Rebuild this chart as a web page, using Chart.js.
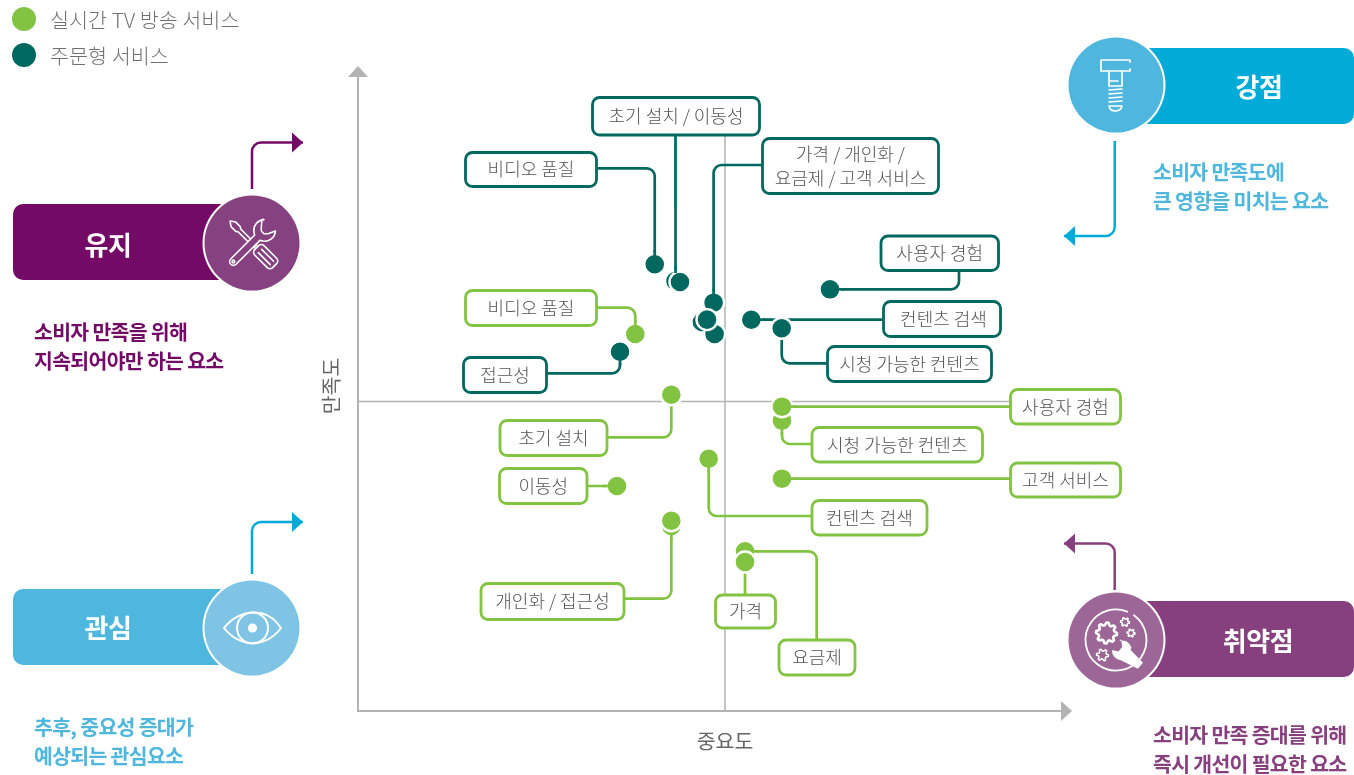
<!DOCTYPE html>
<html lang="ko">
<head>
<meta charset="utf-8">
<title>중요도-만족도 분석</title>
<script src="https://cdn.jsdelivr.net/npm/chart.js@4/dist/chart.umd.min.js"></script>
<style>
  html, body { margin: 0; padding: 0; background: #fff; }
  canvas { display: block; }
</style>
</head>
<body>
<canvas id="myChart" width="1354" height="775"></canvas>
<script>
// importance / satisfaction scores, 0-100 on both axes
const vodNames = ['고객 서비스', '이동성', '초기 설치', '비디오 품질', '요금제', '가격', '개인화', '사용자 경험', '컨텐츠 검색', '시청 가능한 컨텐츠', '접근성']
const vodImportance = [49.14, 45.36, 46.0, 42.39, 50.94, 50.8, 49.86, 67.43, 56.19, 60.53, 37.43]
const vodSatisfaction = [60.78, 67.19, 67.03, 69.8, 58.9, 63.8, 61.16, 65.89, 61.14, 59.8, 56.14]

const liveNames = ['비디오 품질', '초기 설치', '이동성', '접근성', '개인화', '컨텐츠 검색', '시청 가능한 컨텐츠', '사용자 경험', '고객 서비스', '요금제', '가격']
const liveImportance = [39.61, 44.76, 37.0, 44.76, 44.76, 50.1, 60.57, 60.57, 60.57, 55.29, 55.29]
const liveSatisfaction = [58.9, 49.42, 35.16, 28.9, 29.73, 39.42, 45.36, 47.55, 36.3, 24.95, 23.28]

const seriesNames = ['주문형 서비스', '실시간 TV 방송 서비스']
const crossImportance = 52.43
const crossSatisfaction = 48.36
const axisTitles = ['중요도', '만족도']

const DARK = '#00685f'
const GREEN = '#82c341'
const GRAY = '#b3b3b3'
const TEXT = '#666666'
const BOX_TEXT = '#555555'
const FONT = '"Noto Sans CJK KR", "Noto Sans", sans-serif'

// label boxes: x, y, w, h are the stroke centre line.
// start 'h' leaves the box horizontally at `at`, start 'v' vertically at `at`.
// gap: the line stops short of the point's white ring
const callouts = [
  { s: 0, name: '비디오 품질', lines: ['비디오 품질'], box: [465.5, 152.5, 131, 34], start: 'h', edge: 596.5, at: 168.3 },
  { s: 0, name: '이동성', lines: ['초기 설치 / 이동성'], box: [592.5, 97.5, 167, 37.5], start: 'v', edge: 135, at: 675.5 },
  { s: 0, name: '가격', lines: ['가격 / 개인화 /', '요금제 / 고객 서비스'], box: [762.5, 138.5, 176, 55], start: 'h', edge: 762.5, at: 165 },
  { s: 0, name: '사용자 경험', lines: ['사용자 경험'], box: [881, 236, 117.5, 34.5], start: 'v', edge: 270.5, at: 959 },
  { s: 0, name: '컨텐츠 검색', lines: ['컨텐츠 검색'], box: [883.5, 301.5, 117, 35], start: 'h', edge: 883.5, at: 319.6, shift: 1.5 },
  { s: 0, name: '시청 가능한 컨텐츠', lines: ['시청 가능한 컨텐츠'], box: [827.5, 346.5, 164, 35], start: 'h', edge: 827.5, at: 363.3, gap: true },
  { s: 0, name: '접근성', lines: ['접근성'], box: [463.5, 357.5, 83, 35], start: 'h', edge: 546.5, at: 373.3 },
  { s: 1, name: '비디오 품질', lines: ['비디오 품질'], box: [465.5, 290.5, 131, 35], start: 'h', edge: 596.5, at: 307.7 },
  { s: 1, name: '초기 설치', lines: ['초기 설치'], box: [500, 420.5, 107, 35], start: 'h', edge: 607, at: 437.3, gap: true },
  { s: 1, name: '이동성', lines: ['이동성'], box: [499.5, 468.5, 87.5, 35], start: 'h', edge: 587, at: 486 },
  { s: 1, name: '접근성', lines: ['개인화 / 접근성'], box: [481, 583.5, 143, 36], start: 'h', edge: 624, at: 598.7 },
  { s: 1, name: '컨텐츠 검색', lines: ['컨텐츠 검색'], box: [812, 500.5, 115, 34.5], start: 'h', edge: 812, at: 516 },
  { s: 1, name: '시청 가능한 컨텐츠', lines: ['시청 가능한 컨텐츠'], box: [812, 427.5, 170.5, 34.5], start: 'h', edge: 812, at: 444 },
  { s: 1, name: '사용자 경험', lines: ['사용자 경험'], box: [1010.5, 389.5, 110, 34.5], start: 'h', edge: 1010.5, at: 406.6 },
  { s: 1, name: '고객 서비스', lines: ['고객 서비스'], box: [1010.5, 463, 110, 34], start: 'h', edge: 1010.5, at: 478.7 },
  { s: 1, name: '요금제', lines: ['요금제'], box: [779, 640, 76, 35], start: 'v', edge: 640, at: 816.7 },
  { s: 1, name: '가격', lines: ['가격'], box: [715.5, 595, 60, 33], start: 'v', edge: 595, at: 745, gap: true }
]

// quadrant panels around the plot
const panels = [
  { title: '유지', rect: [13, 204, 230, 76], titleX: 108, titleY: 245.5, cx: 252, cy: 243, bar: '#730b66', disc: '#864280', icon: drawTools,
    note: ['소비자 만족을 위해', '지속되어야만 하는 요소'], noteX: 34, noteY: 332, noteColor: '#730b66' },
  { title: '관심', rect: [13, 589, 230, 76], titleX: 108, titleY: 628, cx: 252, cy: 628, bar: '#4fb7dd', disc: '#7fc4e4', icon: drawEye,
    note: ['추후, 중요성 증대가', '예상되는 관심요소'], noteX: 34, noteY: 727, noteColor: '#4fb7dd' },
  { title: '강점', rect: [1124, 48, 230, 76], titleX: 1259, titleY: 87, cx: 1116, cy: 85, bar: '#00acd7', disc: '#4fb7dd', icon: drawBolt,
    note: ['소비자 만족도에', '큰 영향을 미치는 요소'], noteX: 1153, noteY: 172, noteColor: '#4fb7dd' },
  { title: '취약점', rect: [1124, 601, 230, 76], titleX: 1258, titleY: 641, cx: 1116, cy: 640, bar: '#87407e', disc: '#9c6797', icon: drawGears,
    note: ['소비자 만족 증대를 위해', '즉시 개선이 필요한 요소'], noteX: 1153, noteY: 735, noteColor: '#87407e' }
]

const panelArrows = [
  { color: '#730b66', from: [252, 189], corner: [252, 142.5], to: [303, 142.5] },
  { color: '#00acd7', from: [252, 574], corner: [252, 522], to: [303, 522] },
  { color: '#00acd7', from: [1114.7, 141], corner: [1114.7, 236], to: [1064, 236] },
  { color: '#87407e', from: [1114.7, 590], corner: [1114.7, 543.5], to: [1064, 543.5] }
]

function triangle(ctx, tipX, tipY, dx, dy, color) {
  // dx,dy points from the tip back to the base
  ctx.fillStyle = color
  ctx.beginPath()
  ctx.moveTo(tipX, tipY)
  ctx.lineTo(tipX + dx + dy * 10 / 11, tipY + dy + dx * 10 / 11)
  ctx.lineTo(tipX + dx - dy * 10 / 11, tipY + dy - dx * 10 / 11)
  ctx.closePath()
  ctx.fill()
}

function label(ctx, text, x, y, font, color, align, spacing) {
  ctx.font = font
  ctx.fillStyle = color
  ctx.textAlign = align || 'center'
  ctx.textBaseline = 'middle'
  ctx.letterSpacing = spacing || '0px'
  ctx.fillText(text, x, y)
  ctx.letterSpacing = '0px'
}

function drawTools(ctx) {
  ctx.lineWidth = 1.7
  ctx.scale(0.94, 0.94)
  // screwdriver
  ctx.save()
  ctx.rotate(Math.PI / 4)
  ctx.beginPath()
  ctx.moveTo(-33, 0)
  ctx.lineTo(-28, -3.5)
  ctx.lineTo(-21, -3.5)
  ctx.lineTo(-19, -2)
  ctx.lineTo(5, -2)
  ctx.lineTo(5, 2)
  ctx.lineTo(-19, 2)
  ctx.lineTo(-21, 3.5)
  ctx.lineTo(-28, 3.5)
  ctx.closePath()
  ctx.stroke()
  ctx.beginPath()
  ctx.roundRect(7, -7, 27, 14, 4)
  ctx.stroke()
  for (const off of [-2.5, 2.5]) {
    ctx.beginPath()
    ctx.moveTo(12, off)
    ctx.lineTo(30, off)
    ctx.stroke()
  }
  ctx.restore()
  // wrench
  ctx.save()
  ctx.rotate(-Math.PI / 4)
  ctx.beginPath()
  ctx.moveTo(8, -4)
  ctx.lineTo(-28, -4)
  ctx.arc(-28, 0, 4, -Math.PI / 2, Math.PI / 2, true)
  ctx.lineTo(8, 4)
  ctx.arc(19, 0, 11.5, Math.PI * 0.8, Math.PI * 0.27, true)
  ctx.lineTo(19, 5)
  ctx.lineTo(16, 2)
  ctx.lineTo(16, -2)
  ctx.lineTo(19, -5)
  ctx.lineTo(25, -10)
  ctx.arc(19, 0, 11.5, -Math.PI * 0.27, -Math.PI * 0.8, true)
  ctx.closePath()
  ctx.fillStyle = '#864280'
  ctx.fill()
  ctx.stroke()
  ctx.beginPath()
  ctx.arc(-28, 0, 1.4, 0, Math.PI * 2)
  ctx.stroke()
  ctx.restore()
}

function drawEye(ctx) {
  ctx.lineWidth = 2
  ctx.beginPath()
  ctx.moveTo(26, -4)
  ctx.bezierCurveTo(14, -20, -12, -20, -28, 0)
  ctx.bezierCurveTo(-12, 20, 14, 20, 29, 0)
  ctx.lineTo(26, -4)
  ctx.stroke()
  ctx.beginPath()
  ctx.arc(0.5, 0, 15.5, 0, Math.PI * 2)
  ctx.stroke()
  ctx.fillStyle = '#fff'
  ctx.beginPath()
  ctx.arc(0.5, 0, 4.6, 0, Math.PI * 2)
  ctx.fill()
}

function drawBolt(ctx) {
  ctx.lineWidth = 1.7
  ctx.beginPath()
  ctx.moveTo(14, -25)
  ctx.lineTo(-15, -25)
  ctx.lineTo(-15, -14)
  ctx.lineTo(14, -14)
  ctx.moveTo(14, -25)
  ctx.lineTo(14, -23)
  ctx.moveTo(14, -16)
  ctx.lineTo(14, -14)
  ctx.moveTo(-7, -14)
  ctx.lineTo(-7, 0)
  ctx.moveTo(6, -14)
  ctx.lineTo(6, 0)
  ctx.moveTo(-7, -4)
  ctx.lineTo(2, -4)
  ctx.moveTo(-7, 1)
  ctx.lineTo(6, 1)
  ctx.stroke()
  ctx.lineWidth = 1.5
  for (const y of [5, 9, 13, 17]) {
    ctx.beginPath()
    ctx.moveTo(-7, y)
    ctx.lineTo(6, y - 1)
    ctx.stroke()
  }
  ctx.beginPath()
  ctx.moveTo(-7, 21)
  ctx.lineTo(6, 21)
  ctx.quadraticCurveTo(5, 26, -1, 26)
  ctx.quadraticCurveTo(-6, 26, -7, 21)
  ctx.stroke()
}

function gear(ctx, x, y, outer, inner, teeth) {
  ctx.beginPath()
  for (let i = 0; i < teeth * 4; i++) {
    const a = i / (teeth * 4) * Math.PI * 2
    const r = (i % 4 < 2) ? outer : inner
    const px = x + Math.cos(a) * r
    const py = y + Math.sin(a) * r
    if (i === 0) ctx.moveTo(px, py)
    else ctx.lineTo(px, py)
  }
  ctx.closePath()
  ctx.stroke()
}

function drawGears(ctx) {
  ctx.lineWidth = 1.8
  ctx.beginPath()
  ctx.arc(0, 0, 30.5, -Math.PI * 0.3, Math.PI * 1.62)
  ctx.stroke()
  ctx.lineWidth = 2.6
  gear(ctx, -9.5, -7, 10.5, 8, 8)
  ctx.lineWidth = 1.5
  gear(ctx, 9, -18, 4.5, 3, 6)
  gear(ctx, 15, -7, 4, 2.6, 6)
  gear(ctx, -13.5, 15, 6, 4, 6)
  // spanner crossing the ring
  ctx.save()
  ctx.translate(9, 13)
  ctx.rotate(Math.PI * 0.22)
  ctx.fillStyle = '#fff'
  ctx.beginPath()
  ctx.moveTo(-12, -8)
  ctx.lineTo(-6, -3)
  ctx.lineTo(-6, 3)
  ctx.lineTo(-12, 6)
  ctx.arc(-4, 0, 10, Math.PI * 0.8, Math.PI * 0.3, true)
  ctx.lineTo(20, 4)
  ctx.lineTo(20, -4)
  ctx.lineTo(2, -6)
  ctx.arc(-4, 0, 10, -Math.PI * 0.3, -Math.PI * 0.8, true)
  ctx.closePath()
  ctx.fill()
  ctx.restore()
}

function calloutPoint(chart, c) {
  const ds = chart.data.datasets[c.s]
  const pt = ds.data[ds.names.indexOf(c.name)]
  return { px: chart.scales.x.getPixelForValue(pt.x), py: chart.scales.y.getPixelForValue(pt.y), color: ds.backgroundColor }
}

const decorations = {
  id: 'decorations',
  beforeDatasetsDraw(chart) {
    const ctx = chart.ctx
    const x = chart.scales.x
    const y = chart.scales.y

    // quadrant cross lines
    ctx.save()
    ctx.strokeStyle = GRAY
    ctx.lineWidth = 1.5
    ctx.beginPath()
    ctx.moveTo(x.getPixelForValue(crossImportance), y.bottom)
    ctx.lineTo(x.getPixelForValue(crossImportance), 120)
    ctx.moveTo(x.left, y.getPixelForValue(crossSatisfaction))
    ctx.lineTo(1060, y.getPixelForValue(crossSatisfaction))
    ctx.stroke()

    // axis arrow heads and titles
    triangle(ctx, 1072, y.bottom, -11, 0, GRAY)
    triangle(ctx, x.left, 66, 0, 11, GRAY)
    label(ctx, axisTitles[0], 725, 741, '400 20.5px ' + FONT, TEXT)
    ctx.save()
    ctx.translate(331, 386)
    ctx.rotate(-Math.PI / 2)
    label(ctx, axisTitles[1], 0, 0, '400 20.5px ' + FONT, TEXT)
    ctx.restore()

    // leader lines, from the box to the point
    callouts.forEach(function (c) {
      const p = calloutPoint(chart, c)
      ctx.strokeStyle = p.color
      ctx.lineWidth = 2.7
      ctx.beginPath()
      if (c.start === 'h') {
        ctx.moveTo(c.edge, c.at)
        if (Math.abs(p.py - c.at) >= 2) ctx.arcTo(p.px, c.at, p.px, p.py, 8)
      } else {
        ctx.moveTo(c.at, c.edge)
        if (Math.abs(p.px - c.at) >= 2) ctx.arcTo(c.at, p.py, p.px, p.py, 8)
      }
      ctx.lineTo(p.px, p.py)
      ctx.stroke()
    })

    // label boxes
    callouts.forEach(function (c) {
      const color = chart.data.datasets[c.s].backgroundColor
      ctx.fillStyle = '#fff'
      ctx.strokeStyle = color
      ctx.lineWidth = 2.8
      ctx.beginPath()
      ctx.roundRect(c.box[0], c.box[1], c.box[2], c.box[3], 7)
      ctx.fill()
      ctx.stroke()
      const midX = c.box[0] + c.box[2] / 2 + (c.shift || 0)
      const midY = c.box[1] + c.box[3] / 2
      c.lines.forEach(function (line, i) {
        const ly = midY + (i - (c.lines.length - 1) / 2) * 24.5
        label(ctx, line, midX, ly, '300 18px ' + FONT, BOX_TEXT)
      })
    })

    // legend, live service on top
    chart.data.datasets.slice().reverse().forEach(function (ds, i) {
      const ly = 19 + i * 36
      ctx.fillStyle = ds.backgroundColor
      ctx.beginPath()
      ctx.arc(24, ly, 12, 0, Math.PI * 2)
      ctx.fill()
      label(ctx, ds.label, 50, ly + 1, '300 20.7px ' + FONT, '#707070', 'left')
    })

    // quadrant panels
    panels.forEach(function (p) {
      ctx.fillStyle = p.bar
      ctx.beginPath()
      ctx.roundRect(p.rect[0], p.rect[1], p.rect[2], p.rect[3], 10)
      ctx.fill()
      ctx.fillStyle = '#fff'
      ctx.beginPath()
      ctx.arc(p.cx, p.cy, 49.5, 0, Math.PI * 2)
      ctx.fill()
      ctx.fillStyle = p.disc
      ctx.beginPath()
      ctx.arc(p.cx, p.cy, 47.5, 0, Math.PI * 2)
      ctx.fill()
      label(ctx, p.title, p.titleX, p.titleY, '700 26px ' + FONT, '#fff', 'center', '-0.5px')
      ctx.save()
      ctx.translate(p.cx, p.cy)
      ctx.strokeStyle = '#fff'
      ctx.lineCap = 'round'
      ctx.lineJoin = 'round'
      p.icon(ctx)
      ctx.restore()
      p.note.forEach(function (line, i) {
        label(ctx, line, p.noteX, p.noteY + i * 29, '700 20.5px ' + FONT, p.noteColor, 'left', '-0.7px')
      })
    })

    // panel arrows
    panelArrows.forEach(function (a) {
      ctx.strokeStyle = a.color
      ctx.lineWidth = 2.5
      ctx.beginPath()
      ctx.moveTo(a.from[0], a.from[1])
      ctx.arcTo(a.corner[0], a.corner[1], a.to[0], a.to[1], 9)
      ctx.lineTo(a.to[0], a.to[1])
      ctx.stroke()
      triangle(ctx, a.to[0], a.to[1], a.to[0] > a.corner[0] ? -11 : 11, 0, a.color)
    })
    ctx.restore()
  },
  // bridge the ring between a point and its leader line
  afterDatasetsDraw(chart) {
    const ctx = chart.ctx
    ctx.save()
    ctx.lineWidth = 2.7
    callouts.forEach(function (c) {
      if (c.gap) return
      const p = calloutPoint(chart, c)
      let dx = 0
      let dy = 0
      if (c.start === 'h' && Math.abs(p.py - c.at) < 2) dx = Math.sign(c.edge - p.px)
      else if (c.start === 'v' && Math.abs(p.px - c.at) < 2) dy = Math.sign(c.edge - p.py)
      else if (c.start === 'h') dy = Math.sign(c.at - p.py)
      else dx = Math.sign(c.at - p.px)
      ctx.strokeStyle = p.color
      ctx.beginPath()
      ctx.moveTo(p.px + dx * 8, p.py + dy * 8)
      ctx.lineTo(p.px + dx * 14, p.py + dy * 14)
      ctx.stroke()
    })
    ctx.restore()
  }
}

function points(xs, ys) {
  return xs.map(function (v, i) { return { x: v, y: ys[i] } })
}

new Chart(document.getElementById('myChart'), {
  type: 'scatter',
  data: {
    datasets: [
      {
        label: seriesNames[0],
        names: vodNames,
        data: points(vodImportance, vodSatisfaction),
        backgroundColor: DARK,
        borderColor: '#fff',
        borderWidth: 2.4,
        pointRadius: 10.5
      },
      {
        label: seriesNames[1],
        names: liveNames,
        data: points(liveImportance, liveSatisfaction),
        backgroundColor: GREEN,
        borderColor: '#fff',
        borderWidth: 2.4,
        pointRadius: 10.5
      }
    ]
  },
  options: {
    responsive: false,
    animation: false,
    events: [],
    layout: { padding: { left: 358, right: 289, top: 71, bottom: 64 } },
    plugins: {
      legend: { display: false },
      tooltip: { enabled: false }
    },
    scales: {
      x: {
        min: 0,
        max: 101,
        afterFit(scale) { scale.height = 0 },
        grid: { display: false, drawTicks: false },
        border: { color: GRAY, width: 2 },
        ticks: { display: false }
      },
      y: {
        min: 0,
        max: 100,
        afterFit(scale) { scale.width = 0 },
        grid: { display: false, drawTicks: false },
        border: { color: GRAY, width: 2 },
        ticks: { display: false }
      }
    }
  },
  plugins: [decorations]
})
</script>
</body>
</html>
